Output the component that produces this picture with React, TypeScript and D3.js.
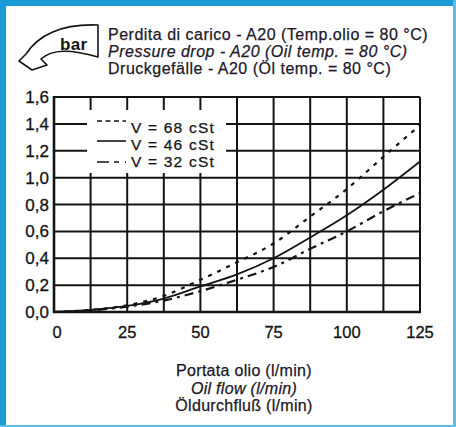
import React from "react";
import * as d3 from "d3";

// Oil flow (l/min) and pressure drop (bar)
const flow = [0, 12.5, 25, 37.5, 50, 62.5, 75, 87.5, 100, 112.5, 125];
const drop68 = [0, 0.015, 0.05, 0.12, 0.24, 0.37, 0.51, 0.71, 0.915, 1.155, 1.39];
const drop46 = [0, 0.015, 0.045, 0.1, 0.19, 0.28, 0.4, 0.555, 0.72, 0.91, 1.12];
const drop32 = [0, 0.012, 0.04, 0.085, 0.155, 0.24, 0.335, 0.47, 0.6, 0.75, 0.885];

const seriesNames = ["V = 68 cSt", "V = 46 cSt", "V = 32 cSt"];
const xTicks = [0, 25, 50, 75, 100, 125];
const yTicks = [0, 0.2, 0.4, 0.6, 0.8, 1.0, 1.2, 1.4, 1.6];
const xGrid = d3.range(0, 125.1, 12.5);

const titleLines = [
  "Perdita di carico - A20 (Temp.olio = 80 °C)",
  "Pressure drop - A20 (Oil temp. = 80 °C)",
  "Druckgefälle - A20 (Öl temp. = 80 °C)",
];
const xTitleLines = ["Portata olio (l/min)", "Oil flow (l/min)", "Öldurchfluß (l/min)"];

const W = 456;
const H = 427;
const FONT = "'Liberation Sans', Arial, Helvetica, sans-serif";
const INK = "#141414";

const styles = [
  { dash: "4,6", legendDash: "5,3.5" },
  { dash: null, legendDash: null },
  { dash: "9,5,3,5", legendDash: "12,5,5,6" },
];

export default function App() {
  const x = d3.scaleLinear().domain([0, 125]).range([54, 420]);
  const y = d3.scaleLinear().domain([0, 1.6]).range([312, 97]);

  const series = [drop68, drop46, drop32];
  const line = d3
    .line<number>()
    .x((_, i) => x(flow[i]))
    .y((d) => y(d))
    .curve(d3.curveMonotoneX);

  const fmt = (v: number) => v.toFixed(1).replace(".", ",");

  // legend rows (sample y, text baseline)
  const legendRows = [
    { ly: 121, ty: 133 },
    { ly: 141, ty: 150 },
    { ly: 162, ty: 167 },
  ];

  return (
    <svg
      width={W}
      height={H}
      style={{ position: "absolute", left: 0, top: 0, background: "#fff" }}
      fontFamily={FONT}
    >
      {/* frame */}
      <rect x={0} y={0} width={W} height={H} fill="#fff" />
      <rect x={0} y={0} width={6} height={H} fill="#1b9ad8" />
      <rect x={0} y={0} width={W} height={6} fill="#1b9ad8" />
      <rect x={453} y={0} width={3} height={H} fill="#5cbde9" />
      <rect x={0} y={425} width={W} height={2} fill="#5cbde9" />

      {/* unit arrow icon */}
      <path
        d="M 98 25 C 70 24, 42 30, 26 54 L 19 61 L 32 70 L 47 65 L 41 59 C 52 49, 70 49, 98 57 Z"
        fill="#fff"
        stroke={INK}
        strokeWidth={1.6}
        strokeLinejoin="round"
      />
      <text x={60} y={50} fontSize={17} fontWeight="bold" fill={INK} letterSpacing={0.3}>
        bar
      </text>

      {/* titles */}
      {titleLines.map((t, i) => (
        <text
          key={t}
          x={108}
          y={40 + i * 17}
          fontSize={16}
          letterSpacing={0.5}
          fontStyle={i === 1 ? "italic" : "normal"}
          fill="#22182a"
          stroke="#22182a"
          strokeWidth={0.25}
        >
          {t}
        </text>
      ))}

      {/* grid */}
      <g stroke={INK} strokeWidth={2}>
        {yTicks.map((t) => (
          <line key={"h" + t} x1={x(0)} x2={x(125)} y1={y(t)} y2={y(t)} />
        ))}
        {xGrid.map((t) => (
          <line key={"v" + t} x1={x(t)} x2={x(t)} y1={y(0)} y2={y(1.6)} />
        ))}
        <line x1={x(0)} x2={x(0)} y1={y(0) + 1} y2={y(1.6) - 1} strokeWidth={2.6} />
        <line x1={x(0) - 1} x2={x(125) + 1} y1={y(0)} y2={y(0)} strokeWidth={2.6} />
      </g>

      {/* legend background */}
      <rect x={87} y={110} width={139} height={63} fill="#fff" />

      {/* curves */}
      <g fill="none" stroke={INK}>
        {series.map((s, i) => (
          <path
            key={seriesNames[i]}
            d={line(s) || ""}
            strokeWidth={i === 1 ? 1.8 : 2.2}
            strokeDasharray={styles[i].dash || undefined}
          />
        ))}
      </g>

      {/* legend */}
      {seriesNames.map((n, i) => (
        <g key={n}>
          <line
            x1={97}
            x2={126}
            y1={legendRows[i].ly}
            y2={legendRows[i].ly}
            stroke={INK}
            strokeWidth={1.6}
            strokeDasharray={styles[i].legendDash || undefined}
          />
          <text
            x={131}
            y={legendRows[i].ty}
            fontSize={15.5}
            letterSpacing={1.2}
            fill={INK}
            stroke={INK}
            strokeWidth={0.25}
          >
            {n}
          </text>
        </g>
      ))}

      {/* y tick labels */}
      {yTicks.map((t) => (
        <text
          key={"yl" + t}
          x={49}
          y={y(t) + 6}
          textAnchor="end"
          fontSize={17}
          fill={INK}
          stroke={INK}
          strokeWidth={0.3}
        >
          {fmt(t)}
        </text>
      ))}

      {/* x tick labels */}
      {xTicks.map((t) => (
        <text
          key={"xl" + t}
          x={x(t) + (t === 0 ? 3 : 0)}
          y={338}
          textAnchor="middle"
          fontSize={16.5}
          fill={INK}
          stroke={INK}
          strokeWidth={0.3}
        >
          {t}
        </text>
      ))}

      {/* x axis title */}
      {xTitleLines.map((t, i) => (
        <text
          key={t}
          x={244}
          y={376 + i * 17.5}
          textAnchor="middle"
          fontSize={16}
          letterSpacing={0.3}
          fontStyle={i === 1 ? "italic" : "normal"}
          fill="#1c1626"
          stroke="#1c1626"
          strokeWidth={0.25}
        >
          {t}
        </text>
      ))}
    </svg>
  );
}
